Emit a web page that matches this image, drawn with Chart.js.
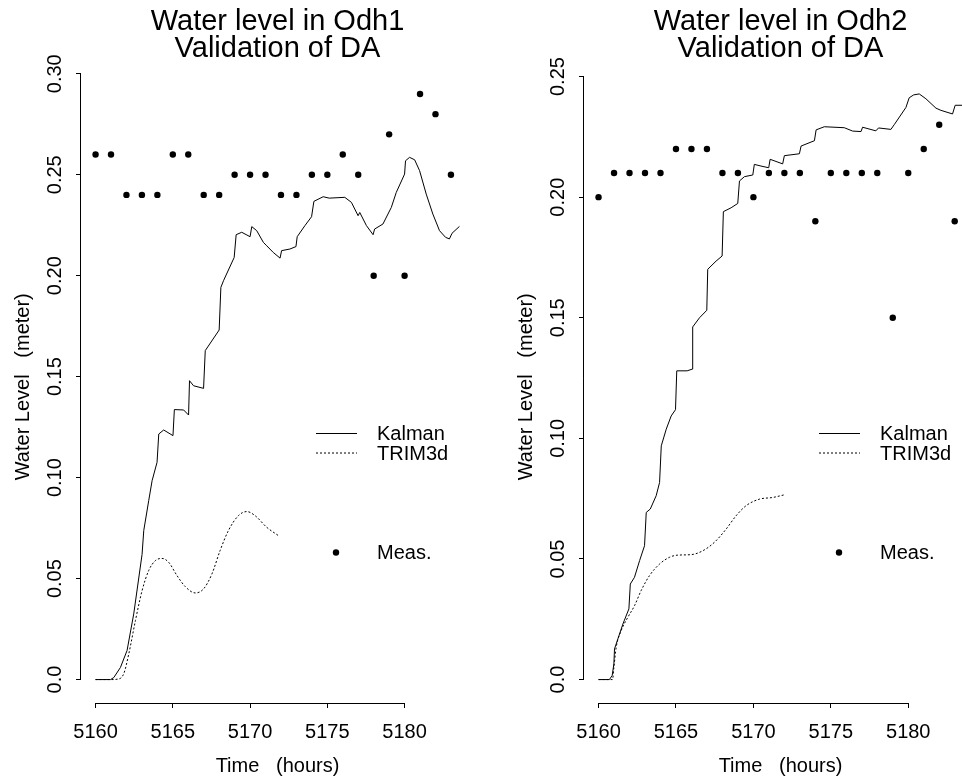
<!DOCTYPE html>
<html>
<head>
<meta charset="utf-8">
<title>Water level validation of DA</title>
<script src="https://cdn.jsdelivr.net/npm/chart.js@4/dist/chart.umd.min.js"></script>
<style>
  html, body { margin: 0; padding: 0; background: #fff; overflow: hidden; width: 962px; height: 777px; }
  #odh1 { position: absolute; left: 0; top: 0; }
  #odh2 { position: absolute; left: 503px; top: 0; }
</style>
</head>
<body>
<canvas id="odh1" width="500" height="777"></canvas>
<canvas id="odh2" width="500" height="777"></canvas>
<script>
// hours of the hourly measurements
const measHours = [5160, 5161, 5162, 5163, 5164, 5165, 5166, 5167, 5168, 5169, 5170, 5171,
  5172, 5173, 5174, 5175, 5176, 5177, 5178, 5179, 5180, 5181, 5182, 5183];

const xTicks = [5160, 5165, 5170, 5175, 5180];
const xTickLabels = ["5160", "5165", "5170", "5175", "5180"];

// Odh1
const meas1 = [0.26, 0.26, 0.24, 0.24, 0.24, 0.26, 0.26, 0.24, 0.24, 0.25, 0.25, 0.25,
  0.24, 0.24, 0.25, 0.25, 0.26, 0.25, 0.20, 0.27, 0.20, 0.29, 0.28, 0.25];
const kalman1Time = [5160, 5160.97, 5161.18, 5161.61, 5162.04, 5162.47, 5163.01, 5163.12, 5163.44,
  5163.66, 5163.98, 5164.09, 5164.41, 5165.01, 5165.10, 5165.70, 5166.02, 5166.08, 5166.34, 5166.99,
  5167.10, 5168.0, 5168.11, 5168.28, 5168.97, 5169.10, 5169.46, 5170.0, 5170.11, 5170.43, 5170.86,
  5171.08, 5171.5, 5171.94, 5172.04, 5172.58, 5172.97, 5173.05, 5173.55, 5173.98, 5174.13, 5174.73,
  5175.12, 5176.13, 5176.56, 5176.99, 5177.10, 5177.53, 5177.96, 5178.06, 5178.6, 5179.14, 5179.46,
  5180.0, 5180.06, 5180.32, 5180.65, 5180.97, 5181.40, 5181.83, 5182.26, 5182.65, 5182.90, 5183.07,
  5183.55];
const kalman1Level = [0, 0, 0.001, 0.006, 0.0144, 0.0325, 0.062, 0.0738, 0.0886,
  0.0985, 0.1076, 0.1216, 0.1236, 0.1208, 0.1337, 0.1335, 0.131, 0.148, 0.1455, 0.1442,
  0.1629, 0.1731, 0.1942, 0.1975, 0.209, 0.2203, 0.2215, 0.2193, 0.2243, 0.2223, 0.2165,
  0.2148, 0.2115, 0.2087, 0.2124, 0.2132, 0.2144, 0.2193, 0.2248, 0.2292, 0.2368, 0.2391,
  0.2384, 0.2388, 0.2363, 0.2297, 0.2313, 0.2248, 0.2203, 0.2231, 0.2256, 0.2338, 0.2412,
  0.2503, 0.2569, 0.2586, 0.2574, 0.252, 0.2404, 0.2305, 0.2223, 0.219, 0.2182, 0.221,
  0.2244];
const trim1Time = [5160, 5160.97, 5161.5, 5161.83, 5162.15, 5162.58, 5163.01, 5163.44, 5163.87,
  5164.30, 5164.73, 5165.27, 5165.81, 5166.45, 5166.99, 5167.53, 5168.06, 5168.60, 5169.25,
  5169.79, 5170.32, 5171.08, 5171.83];
const trim1Level = [0, 0, 0.0003, 0.003, 0.0127, 0.0292, 0.044, 0.054, 0.0589,
  0.060, 0.0581, 0.0515, 0.046, 0.0429, 0.0449, 0.0523, 0.0639, 0.0738, 0.0812,
  0.0832, 0.0812, 0.0754, 0.0713];
const yTicks1 = [0, 0.05, 0.10, 0.15, 0.20, 0.25, 0.30];
const yTickLabels1 = ["0.0", "0.05", "0.10", "0.15", "0.20", "0.25", "0.30"];

// Odh2
const meas2 = [0.20, 0.21, 0.21, 0.21, 0.21, 0.22, 0.22, 0.22, 0.21, 0.21, 0.20, 0.21,
  0.21, 0.21, 0.19, 0.21, 0.21, 0.21, 0.21, 0.15, 0.21, 0.22, 0.23, 0.19];
const kalman2Time = [5160, 5160.7, 5160.88, 5160.99, 5161.03, 5161.25, 5161.57, 5161.96, 5162.05,
  5162.32, 5162.65, 5162.97, 5163.08, 5163.34, 5163.72, 5163.94, 5164.05, 5164.37, 5164.69,
  5164.97, 5165.05, 5165.72, 5166.05, 5166.08, 5166.52, 5166.99, 5167.05, 5167.59, 5167.98,
  5168.06, 5168.56, 5168.99, 5169.10, 5169.42, 5169.96, 5170.06, 5170.49, 5170.99, 5171.08,
  5171.89, 5172.0, 5172.97, 5173.08, 5173.94, 5174.05, 5174.58, 5175.87, 5176.41, 5176.95,
  5177.05, 5177.91, 5178.08, 5178.88, 5179.10, 5179.85, 5180.06, 5180.35, 5180.71, 5181.14,
  5181.79, 5182.11, 5182.86, 5183.03, 5183.5];
const kalman2Level = [0, 0, 0.0017, 0.0065, 0.0127, 0.0169, 0.023, 0.0293, 0.0396,
  0.0424, 0.0493, 0.0555, 0.0693, 0.0707, 0.0762, 0.0817, 0.0969, 0.1038, 0.1093,
  0.1119, 0.128, 0.128, 0.1287, 0.1462, 0.150, 0.1531, 0.1701, 0.1735, 0.1756,
  0.194, 0.1956, 0.1974, 0.2067, 0.2085, 0.2092, 0.2136, 0.2129, 0.2122, 0.2157,
  0.2138, 0.2172, 0.2180, 0.2212, 0.2234, 0.2279, 0.2292, 0.2288, 0.2274, 0.2272,
  0.229, 0.2275, 0.2287, 0.2281, 0.2301, 0.2372, 0.2412, 0.2424, 0.2428, 0.2408,
  0.2369, 0.236, 0.2345, 0.2381, 0.2381];
const trim2Time = [5160, 5160.9, 5160.99, 5161.14, 5161.46, 5161.89, 5162.32, 5162.75, 5163.29,
  5163.94, 5164.58, 5165.12, 5165.98, 5166.73, 5167.48, 5168.24, 5168.88, 5169.53, 5170.39,
  5171.25, 5172.0];
const trim2Level = [0, 0, 0.005, 0.0134, 0.0203, 0.0258, 0.0306, 0.0369, 0.0431,
  0.0479, 0.0507, 0.0516, 0.0518, 0.0534, 0.0569, 0.0624, 0.0679, 0.0721, 0.0748,
  0.0755, 0.0766];
const yTicks2 = [0, 0.05, 0.10, 0.15, 0.20, 0.25];
const yTickLabels2 = ["0.0", "0.05", "0.10", "0.15", "0.20", "0.25"];

const FONT = "'Liberation Sans', Arial, Helvetica, sans-serif";
Chart.defaults.font.family = FONT;
Chart.defaults.color = "#000";

const pairs = (xs, ys) => xs.map((x, i) => ({ x: x, y: ys[i] }));
// R style axis range: data range plus 4% on each side
const padRange = (lo, hi) => [lo - 0.04 * (hi - lo), hi + 0.04 * (hi - lo)];

// axis lines only over the tick range, rotated y labels and the legend box
const rStyle = {
  id: "rStyle",
  afterDraw(chart, args, opts) {
    const { ctx, chartArea } = chart;
    const x = chart.scales.x;
    const y = chart.scales.y;
    ctx.save();
    ctx.strokeStyle = "#000";
    ctx.fillStyle = "#000";
    ctx.lineWidth = 1;

    ctx.beginPath();
    ctx.moveTo(x.getPixelForValue(xTicks[0]), chartArea.bottom + 0.5);
    ctx.lineTo(x.getPixelForValue(xTicks[xTicks.length - 1]), chartArea.bottom + 0.5);
    ctx.moveTo(chartArea.left - 0.5, y.getPixelForValue(opts.yTicks[0]));
    ctx.lineTo(chartArea.left - 0.5, y.getPixelForValue(opts.yTicks[opts.yTicks.length - 1]));
    ctx.stroke();

    ctx.font = "20px " + FONT;
    ctx.textAlign = "center";
    ctx.textBaseline = "middle";
    opts.yTicks.forEach((v, i) => {
      ctx.save();
      ctx.translate(chartArea.left - 26, y.getPixelForValue(v));
      ctx.rotate(-Math.PI / 2);
      ctx.fillText(opts.yLabels[i], 0, 0);
      ctx.restore();
    });

    // legend
    const lx = chartArea.left + 235;
    const tx = chartArea.left + 296;
    const rows = [chartArea.top + 363, chartArea.top + 382.5, chartArea.top + 482];
    ctx.beginPath();
    ctx.moveTo(lx, rows[0]);
    ctx.lineTo(lx + 41, rows[0]);
    ctx.stroke();
    ctx.setLineDash([2, 2]);
    ctx.beginPath();
    ctx.moveTo(lx, rows[1]);
    ctx.lineTo(lx + 41, rows[1]);
    ctx.stroke();
    ctx.setLineDash([]);
    ctx.beginPath();
    ctx.arc(chartArea.left + 255, rows[2], 3.2, 0, Math.PI * 2);
    ctx.fill();
    ctx.textAlign = "left";
    ctx.fillText("Kalman", tx, rows[0] + 1);
    ctx.fillText("TRIM3d", tx, rows[1] + 1);
    ctx.fillText("Meas.", tx, rows[2] + 1);
    ctx.restore();
  },
};

function makeChart(id, title, kalmanT, kalmanV, trimT, trimV, meas, yTicks, yLabels) {
  const xr = padRange(measHours[0], Math.max(kalmanT[kalmanT.length - 1], measHours[measHours.length - 1]));
  const allY = kalmanV.concat(trimV, meas);
  const yr = padRange(Math.min(...allY), Math.max(...allY));

  new Chart(document.getElementById(id), {
    type: "line",
    data: {
      datasets: [
        {
          label: "Kalman",
          data: pairs(kalmanT, kalmanV),
          borderColor: "#000",
          borderWidth: 1,
          pointRadius: 0,
          tension: 0,
        },
        {
          label: "TRIM3d",
          data: pairs(trimT, trimV),
          borderColor: "#000",
          borderWidth: 1,
          borderDash: [2, 2],
          pointRadius: 0,
          cubicInterpolationMode: "monotone",
        },
        {
          label: "Meas.",
          data: pairs(measHours, meas),
          showLine: false,
          pointRadius: 3.2,
          pointBackgroundColor: "#000",
          pointBorderWidth: 0,
        },
      ],
    },
    options: {
      responsive: false,
      animation: false,
      devicePixelRatio: 1,
      layout: { padding: { left: 0, right: 26, top: 0, bottom: 0 } },
      plugins: {
        legend: { display: false },
        tooltip: { enabled: false },
        title: {
          display: true,
          fullSize: false,
          text: [title, "Validation of DA"],
          color: "#000",
          font: { size: 29, weight: "normal", lineHeight: 0.914 },
          padding: { top: 9, bottom: 8.5 },
        },
        rStyle: { yTicks: yTicks, yLabels: yLabels },
      },
      scales: {
        x: {
          type: "linear",
          min: xr[0],
          max: xr[1],
          afterBuildTicks: (s) => { s.ticks = xTicks.map((v) => ({ value: v })); },
          afterFit: (s) => { s.height = 74; },
          border: { display: false },
          grid: { drawOnChartArea: false, drawTicks: true, tickLength: 5, color: "#000", tickColor: "#000" },
          ticks: {
            autoSkip: false,
            maxRotation: 0,
            padding: 12,
            font: { size: 20 },
            callback: (v, i) => xTickLabels[i],
          },
          title: {
            display: true,
            text: "Time   (hours)",
            font: { size: 20, lineHeight: 1.1 },
            padding: { top: 0, bottom: 0 },
          },
        },
        y: {
          type: "linear",
          min: yr[0],
          max: yr[1],
          afterBuildTicks: (s) => { s.ticks = yTicks.map((v) => ({ value: v })); },
          afterFit: (s) => { s.width = 81; },
          border: { display: false },
          grid: { drawOnChartArea: false, drawTicks: true, tickLength: 5, color: "#000", tickColor: "#000" },
          ticks: { display: false },
          title: {
            display: true,
            text: "Water Level   (meter)",
            font: { size: 20, lineHeight: 1.2 },
            padding: { top: 11, bottom: 0 },
          },
        },
      },
    },
    plugins: [rStyle],
  });
}

makeChart("odh1", "Water level in Odh1", kalman1Time, kalman1Level, trim1Time, trim1Level, meas1, yTicks1, yTickLabels1);
makeChart("odh2", "Water level in Odh2", kalman2Time, kalman2Level, trim2Time, trim2Level, meas2, yTicks2, yTickLabels2);
</script>
</body>
</html>
